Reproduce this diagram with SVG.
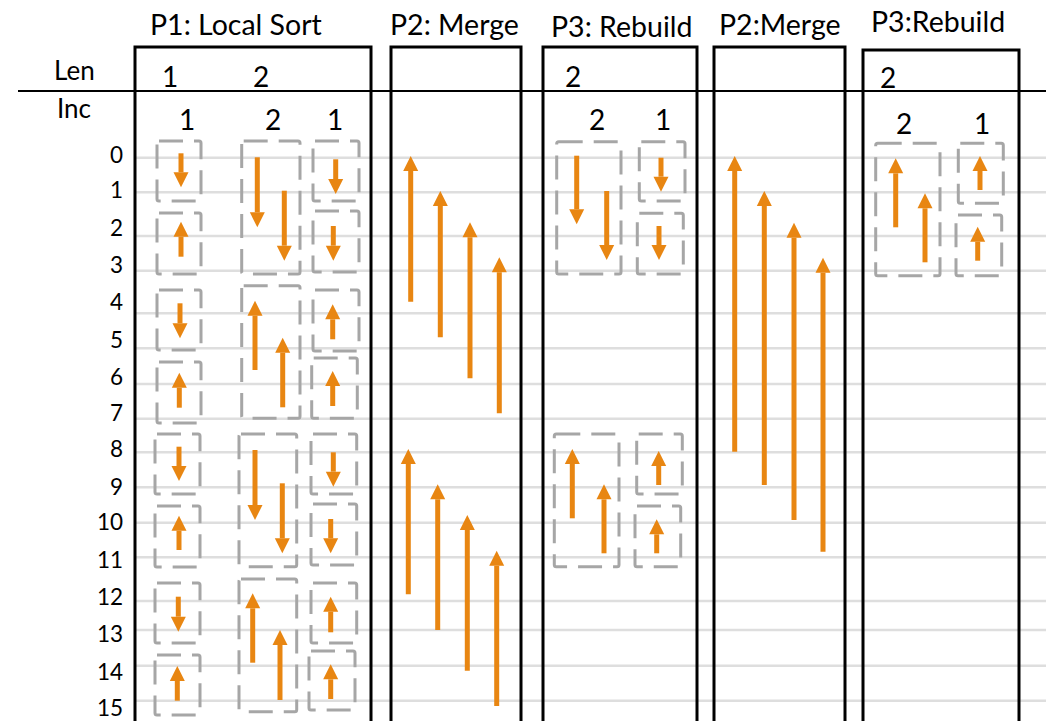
<svg xmlns="http://www.w3.org/2000/svg" width="1046" height="721" viewBox="0 0 1046 721">
<style>
.t{font-family:Lato,"Liberation Sans",sans-serif;fill:#000}
.title{font-size:28.5px}
.hd{font-size:28px}
.ax{font-size:26px}
.row{font-size:22.5px;text-anchor:end}
.grid{stroke:#dedede;stroke-width:2.5}
.panel{fill:none;stroke:#000;stroke-width:3}
.dash{fill:none;stroke:#a6a6a6;stroke-width:3;stroke-dasharray:24 11}
.arr{stroke:#e88612;stroke-width:5;fill:none;marker-end:url(#ah)}
</style>
<defs>
<marker id="ah" markerUnits="userSpaceOnUse" markerWidth="16" markerHeight="16" viewBox="0 -8 15 16" refX="0" refY="0" orient="auto">
<path d="M0,-7.5 L15,0 L0,7.5 Z" fill="#e88612"/>
</marker>
</defs>
<rect width="1046" height="721" fill="#fff"/>
<g id="grid">
<line class="grid" x1="135" x2="1046" y1="157.7" y2="157.7"/>
<line class="grid" x1="135" x2="1046" y1="192.3" y2="192.3"/>
<line class="grid" x1="135" x2="1046" y1="236" y2="236"/>
<line class="grid" x1="135" x2="1046" y1="270.7" y2="270.7"/>
<line class="grid" x1="135" x2="1046" y1="313.3" y2="313.3"/>
<line class="grid" x1="135" x2="1046" y1="348.3" y2="348.3"/>
<line class="grid" x1="135" x2="1046" y1="384" y2="384"/>
<line class="grid" x1="135" x2="1046" y1="418.7" y2="418.7"/>
<line class="grid" x1="135" x2="1046" y1="452.3" y2="452.3"/>
<line class="grid" x1="135" x2="1046" y1="487.3" y2="487.3"/>
<line class="grid" x1="135" x2="1046" y1="522.7" y2="522.7"/>
<line class="grid" x1="135" x2="1046" y1="557.3" y2="557.3"/>
<line class="grid" x1="135" x2="1046" y1="601" y2="601"/>
<line class="grid" x1="135" x2="1046" y1="630" y2="630"/>
<line class="grid" x1="135" x2="1046" y1="665.7" y2="665.7"/>
<line class="grid" x1="135" x2="1046" y1="700.7" y2="700.7"/>
</g>
<g id="axis">
<line x1="18" x2="1046" y1="91" y2="91" stroke="#000" stroke-width="2"/>
<text class="t ax" x="54" y="80">Len</text>
<text class="t ax" x="57" y="118">Inc</text>
<text class="t row" x="123" y="162.5">0</text>
<text class="t row" x="123" y="198">1</text>
<text class="t row" x="123" y="235.5">2</text>
<text class="t row" x="123" y="272.5">3</text>
<text class="t row" x="123" y="309.5">4</text>
<text class="t row" x="123" y="347.5">5</text>
<text class="t row" x="123" y="384.5">6</text>
<text class="t row" x="123" y="421">7</text>
<text class="t row" x="123" y="457">8</text>
<text class="t row" x="123" y="494.5">9</text>
<text class="t row" x="123" y="529.5">10</text>
<text class="t row" x="123" y="567.5">11</text>
<text class="t row" x="123" y="604.5">12</text>
<text class="t row" x="123" y="641.5">13</text>
<text class="t row" x="123" y="679.5">14</text>
<text class="t row" x="123" y="715.5">15</text>
</g>
<g id="p1">
<text class="t title" x="150" y="35">P1: Local Sort</text>
<rect class="panel" x="135" y="47" width="236" height="690"/>
<text class="t hd" x="162" y="87">1</text>
<text class="t hd" x="253" y="87">2</text>
<text class="t hd" x="179" y="130">1</text>
<text class="t hd" x="265" y="130">2</text>
<text class="t hd" x="327" y="130">1</text>
<rect class="dash" x="157" y="141" width="44" height="60" rx="2"/>
<rect class="dash" x="157" y="213" width="44" height="61" rx="2"/>
<rect class="dash" x="157" y="290" width="44" height="60" rx="2"/>
<rect class="dash" x="157" y="362" width="44" height="61" rx="2"/>
<rect class="dash" x="155" y="434" width="45" height="60" rx="2"/>
<rect class="dash" x="155" y="506" width="45" height="61" rx="2"/>
<rect class="dash" x="155" y="583" width="45" height="60" rx="2"/>
<rect class="dash" x="155" y="655" width="45" height="60" rx="2"/>
<rect class="dash" x="241.7" y="141" width="58.3" height="133" rx="2"/>
<rect class="dash" x="241.7" y="285.7" width="58.3" height="132.6" rx="2"/>
<rect class="dash" x="239" y="434" width="57.7" height="132.7" rx="2"/>
<rect class="dash" x="239" y="579" width="57.7" height="132.7" rx="2"/>
<rect class="dash" x="313" y="141" width="46" height="60" rx="2"/>
<rect class="dash" x="313" y="211" width="46" height="61" rx="2"/>
<rect class="dash" x="313" y="290" width="46" height="61" rx="2"/>
<rect class="dash" x="311.7" y="358" width="45.6" height="60.3" rx="2"/>
<rect class="dash" x="311" y="434" width="45.7" height="60" rx="2"/>
<rect class="dash" x="311" y="504" width="45.7" height="61" rx="2"/>
<rect class="dash" x="311" y="583" width="45.7" height="60" rx="2"/>
<rect class="dash" x="309" y="651" width="46" height="59" rx="2"/>
</g>
<g id="p2a">
<text class="t title" x="390" y="35">P2: Merge</text>
<rect class="panel" x="391" y="47" width="130" height="690"/>
</g>
<g id="p3a">
<text class="t title" x="551" y="37">P3: Rebuild</text>
<rect class="panel" x="543" y="47" width="154" height="690"/>
<text class="t hd" x="565" y="87">2</text>
<text class="t hd" x="589" y="130">2</text>
<text class="t hd" x="655" y="130">1</text>
<rect class="dash" x="556.7" y="141.7" width="64.3" height="132.3" rx="2"/>
<rect class="dash" x="639.3" y="141.7" width="45.7" height="59.3" rx="2"/>
<rect class="dash" x="637.3" y="213.3" width="46" height="60.7" rx="2"/>
<rect class="dash" x="554.3" y="434" width="64.7" height="132.7" rx="2"/>
<rect class="dash" x="636.7" y="434" width="45.6" height="60" rx="2"/>
<rect class="dash" x="635" y="506" width="45.7" height="60.7" rx="2"/>
</g>
<g id="p2b">
<text class="t title" x="719" y="35">P2:Merge</text>
<rect class="panel" x="714" y="47" width="131" height="690"/>
</g>
<g id="p3b">
<text class="t title" x="871" y="32">P3:Rebuild</text>
<rect class="panel" x="863" y="50" width="156" height="690"/>
<text class="t hd" x="880" y="88">2</text>
<text class="t hd" x="896" y="134">2</text>
<text class="t hd" x="974" y="134">1</text>
<rect class="dash" x="875.7" y="143.3" width="64.3" height="132.4" rx="2"/>
<rect class="dash" x="958.3" y="143.3" width="45" height="60" rx="2"/>
<rect class="dash" x="956" y="215" width="45.7" height="60.7" rx="2"/>
</g>
<g id="connectors">
<line class="arr" x1="181" y1="153.3" x2="181" y2="172.3"/>
<line class="arr" x1="181" y1="256.7" x2="181" y2="236.7"/>
<line class="arr" x1="180" y1="303.3" x2="180" y2="323.3"/>
<line class="arr" x1="179.3" y1="407.7" x2="179.3" y2="387.7"/>
<line class="arr" x1="179" y1="446.7" x2="179" y2="466"/>
<line class="arr" x1="179" y1="550" x2="179" y2="530.7"/>
<line class="arr" x1="178.3" y1="596.7" x2="178.3" y2="616.7"/>
<line class="arr" x1="177.3" y1="700.7" x2="177.3" y2="681"/>
<line class="arr" x1="257.3" y1="157.3" x2="257.3" y2="212.3"/>
<line class="arr" x1="284.3" y1="190.7" x2="284.3" y2="245.7"/>
<line class="arr" x1="255" y1="370" x2="255" y2="315.7"/>
<line class="arr" x1="282.7" y1="407.3" x2="282.7" y2="352.7"/>
<line class="arr" x1="255" y1="450" x2="255" y2="505"/>
<line class="arr" x1="282.3" y1="483.3" x2="282.3" y2="538.3"/>
<line class="arr" x1="252.7" y1="662.7" x2="252.7" y2="608.3"/>
<line class="arr" x1="280" y1="700" x2="280" y2="645"/>
<line class="arr" x1="335.7" y1="159.3" x2="335.7" y2="179"/>
<line class="arr" x1="333.3" y1="226" x2="333.3" y2="245.7"/>
<line class="arr" x1="332.7" y1="339.3" x2="332.7" y2="319.3"/>
<line class="arr" x1="332.7" y1="406" x2="332.7" y2="386"/>
<line class="arr" x1="333.3" y1="452.3" x2="333.3" y2="471.7"/>
<line class="arr" x1="330.7" y1="519" x2="330.7" y2="538.3"/>
<line class="arr" x1="330.7" y1="632.3" x2="330.7" y2="611.7"/>
<line class="arr" x1="330.7" y1="699" x2="330.7" y2="679.3"/>
<line class="arr" x1="410.7" y1="301.7" x2="410.7" y2="171"/>
<line class="arr" x1="440.3" y1="337.3" x2="440.3" y2="206"/>
<line class="arr" x1="470" y1="378.3" x2="470" y2="237.3"/>
<line class="arr" x1="499.3" y1="413.3" x2="499.3" y2="272.3"/>
<line class="arr" x1="408.3" y1="594.3" x2="408.3" y2="464"/>
<line class="arr" x1="437.7" y1="630" x2="437.7" y2="499.3"/>
<line class="arr" x1="467.3" y1="670.7" x2="467.3" y2="530"/>
<line class="arr" x1="496.7" y1="706" x2="496.7" y2="565.7"/>
<line class="arr" x1="576.7" y1="155.7" x2="576.7" y2="209.3"/>
<line class="arr" x1="606.7" y1="191" x2="606.7" y2="245"/>
<line class="arr" x1="661" y1="157.7" x2="661" y2="176.7"/>
<line class="arr" x1="659" y1="226" x2="659" y2="245"/>
<line class="arr" x1="572.3" y1="518.3" x2="572.3" y2="464"/>
<line class="arr" x1="604" y1="553.3" x2="604" y2="499.3"/>
<line class="arr" x1="658.7" y1="485" x2="658.7" y2="466"/>
<line class="arr" x1="656.7" y1="553.3" x2="656.7" y2="534.3"/>
<line class="arr" x1="734.7" y1="451.7" x2="734.7" y2="171"/>
<line class="arr" x1="764.3" y1="485" x2="764.3" y2="206"/>
<line class="arr" x1="794" y1="520" x2="794" y2="237.7"/>
<line class="arr" x1="823" y1="551.7" x2="823" y2="272.7"/>
<line class="arr" x1="895.7" y1="227.3" x2="895.7" y2="173.3"/>
<line class="arr" x1="925" y1="262.3" x2="925" y2="208.3"/>
<line class="arr" x1="980" y1="190" x2="980" y2="171"/>
<line class="arr" x1="977.7" y1="260.7" x2="977.7" y2="241.7"/>
</g>
</svg>
